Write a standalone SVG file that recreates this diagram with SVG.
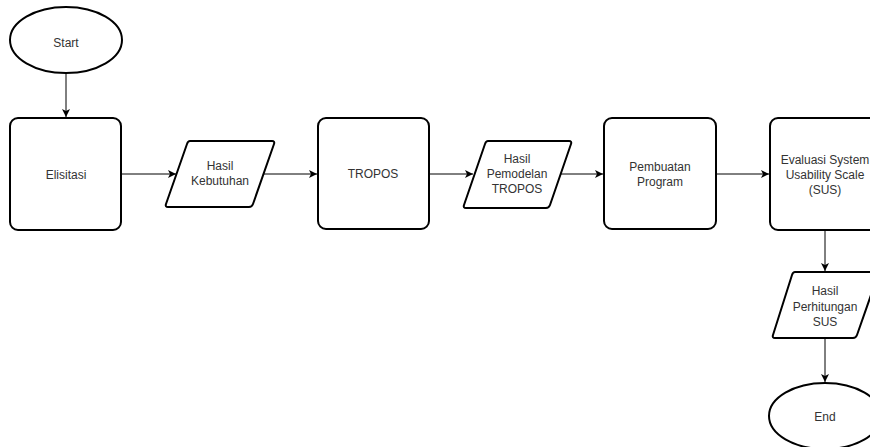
<svg xmlns="http://www.w3.org/2000/svg" width="870" height="447" viewBox="0 0 870 447">
<style>
.s{fill:#fff;stroke:#000;stroke-width:2}
.t{font-family:"Liberation Sans",Arial,sans-serif;font-size:12px;fill:#333;text-anchor:middle}
.c{fill:none;stroke:#000;stroke-width:1}
</style>
<defs>
<marker id="a" markerWidth="10" markerHeight="10" refX="8" refY="4" orient="auto" markerUnits="userSpaceOnUse">
<path d="M0,0 L8,4 L0,8 L2,4 Z" fill="#000"/>
</marker>
</defs>
<rect width="870" height="447" fill="#fff"/>
<g id="connectors">
<line class="c" x1="66" y1="74" x2="66" y2="117" marker-end="url(#a)"/>
<line class="c" x1="121" y1="174" x2="176" y2="174" marker-end="url(#a)"/>
<line class="c" x1="263" y1="174" x2="317" y2="174" marker-end="url(#a)"/>
<line class="c" x1="429" y1="174" x2="473" y2="174" marker-end="url(#a)"/>
<line class="c" x1="560" y1="174" x2="603" y2="174" marker-end="url(#a)"/>
<line class="c" x1="716" y1="174" x2="769" y2="174" marker-end="url(#a)"/>
<line class="c" x1="825" y1="230" x2="825" y2="271" marker-end="url(#a)"/>
<line class="c" x1="825" y1="338" x2="825" y2="382" marker-end="url(#a)"/>
</g>
<g id="start">
<ellipse class="s" cx="66" cy="40" rx="56" ry="33"/>
<text class="t" x="66" y="47">Start</text>
</g>
<g id="elisitasi">
<rect class="s" x="10" y="118" width="111" height="112" rx="8"/>
<text class="t" x="66" y="179">Elisitasi</text>
</g>
<g id="hasil-kebutuhan">
<path class="s" d="M190,141 L272,141 Q275,141 274,144 L253,204 Q252,207 249,207 L168,207 Q165,207 166,204 L187,144 Q188,141 190,141 Z"/>
<text class="t" x="220" y="170">Hasil</text>
<text class="t" x="220" y="185">Kebutuhan</text>
</g>
<g id="tropos">
<rect class="s" x="318" y="118" width="111" height="111" rx="8"/>
<text class="t" x="373" y="178">TROPOS</text>
</g>
<g id="hasil-pemodelan">
<path class="s" d="M488,141 L569,141 Q572,141 571,144 L550,205 Q549,208 546,208 L466,208 Q463,208 464,205 L485,144 Q486,141 488,141 Z"/>
<text class="t" x="517" y="163">Hasil</text>
<text class="t" x="517" y="178">Pemodelan</text>
<text class="t" x="517" y="193">TROPOS</text>
</g>
<g id="pembuatan">
<rect class="s" x="604" y="118" width="112" height="111" rx="8"/>
<text class="t" x="660" y="171">Pembuatan</text>
<text class="t" x="660" y="186">Program</text>
</g>
<g id="evaluasi">
<rect class="s" x="770" y="118" width="111" height="112" rx="8"/>
<text class="t" x="825" y="164">Evaluasi System</text>
<text class="t" x="825" y="179">Usability Scale</text>
<text class="t" x="825" y="194">(SUS)</text>
</g>
<g id="hasil-perhitungan">
<path class="s" d="M795,272 L876,272 Q879,272 878,275 L857,335 Q856,338 853,338 L775,338 Q772,338 773,335 L792,275 Q793,272 795,272 Z"/>
<text class="t" x="825" y="295">Hasil</text>
<text class="t" x="825" y="311">Perhitungan</text>
<text class="t" x="825" y="326">SUS</text>
</g>
<g id="end">
<ellipse class="s" cx="825" cy="416" rx="56" ry="33"/>
<text class="t" x="825" y="421">End</text>
</g>
</svg>
